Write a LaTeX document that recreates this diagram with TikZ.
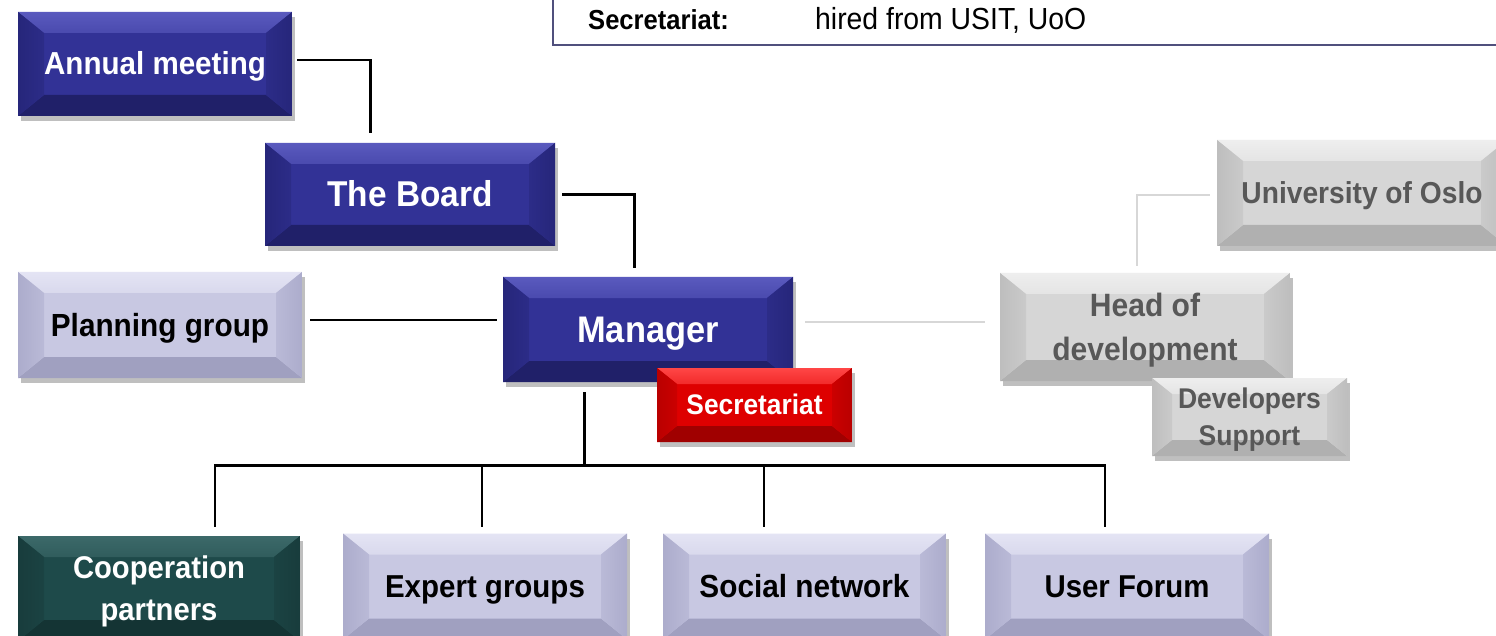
\documentclass[tikz,border=0pt]{standalone}
\usepackage{fontspec}
\setmainfont{Liberation Sans}
\newfontfamily\nar[FakeStretch=0.93]{Liberation Sans}
\usetikzlibrary{shadows,calc}
\definecolor{bBase}{RGB}{50,50,150}
\definecolor{bTop}{RGB}{90,90,190}
\definecolor{bSide}{RGB}{38,38,122}
\definecolor{bBot}{RGB}{32,32,105}
\definecolor{lBase}{RGB}{200,200,226}
\definecolor{lTop}{RGB}{228,228,244}
\definecolor{lSide}{RGB}{172,172,204}
\definecolor{lBot}{RGB}{160,160,192}
\definecolor{gBase}{RGB}{214,214,214}
\definecolor{gTop}{RGB}{238,238,238}
\definecolor{gSide}{RGB}{190,190,190}
\definecolor{gBot}{RGB}{176,176,176}
\definecolor{rBase}{RGB}{222,0,0}
\definecolor{rTop}{RGB}{255,70,70}
\definecolor{rSide}{RGB}{185,0,0}
\definecolor{rBot}{RGB}{160,0,0}
\definecolor{tBase}{RGB}{30,74,74}
\definecolor{tTop}{RGB}{60,105,105}
\definecolor{tSide}{RGB}{24,60,60}
\definecolor{tBot}{RGB}{20,52,52}
\definecolor{frame}{RGB}{80,80,125}
\definecolor{grayline}{RGB}{215,215,215}
\definecolor{grtext}{RGB}{88,88,88}
\tikzset{
  bevel x/.store in=\bx, bevel y/.store in=\by, bevel x=26, bevel y=21,
  bevelbox/.style n args={4}{rectangle, inner sep=0pt, align=center,
    fill=#1,
    drop shadow={shadow xshift=3pt, shadow yshift=-5pt, opacity=0.25, fill=black},
    path picture={
      \path (path picture bounding box.north west) coordinate (pNW)
            (path picture bounding box.north east) coordinate (pNE)
            (path picture bounding box.south west) coordinate (pSW)
            (path picture bounding box.south east) coordinate (pSE);
      \shade[top color=#2, bottom color=#2!60!#1] (pNW) -- (pNE) -- ([shift={(-\bx pt,-\by pt)}]pNE) -- ([shift={(\bx pt,-\by pt)}]pNW) -- cycle;
      \fill[#4] (pSW) -- (pSE) -- ([shift={(-\bx pt,\by pt)}]pSE) -- ([shift={(\bx pt,\by pt)}]pSW) -- cycle;
      \shade[left color=#3, right color=#3!50!#1] (pNW) -- ([shift={(\bx pt,-\by pt)}]pNW) -- ([shift={(\bx pt,\by pt)}]pSW) -- (pSW) -- cycle;
      \shade[right color=#3, left color=#3!50!#1] (pNE) -- ([shift={(-\bx pt,-\by pt)}]pNE) -- ([shift={(-\bx pt,\by pt)}]pSE) -- (pSE) -- cycle;
    }},
  bluebox/.style={bevelbox={bBase}{bTop}{bSide}{bBot}, text=white},
  lavbox/.style={bevelbox={lBase}{lTop}{lSide}{lBot}, text=black},
  graybox/.style={bevelbox={gBase}{gTop}{gSide}{gBot}, text=grtext},
  redbox/.style={bevelbox={rBase}{rTop}{rSide}{rBot}, text=white},
  tealbox/.style={bevelbox={tBase}{tTop}{tSide}{tBot}, text=white},
  conn/.style={line width=2.8pt, black},
  gconn/.style={line width=2.5pt, grayline},
}
\newcommand{\fs}[2]{\nar\bfseries\fontsize{#1}{#2}\selectfont}
\newcommand{\cb}[1]{\raisebox{0pt}[\fontcharht\font`H][0pt]{#1}}
\begin{document}
\begin{tikzpicture}[x=1pt,y=-1pt]
\useasboundingbox (0,0) rectangle (1496,636);
\clip (0,0) rectangle (1496,636);
\fill[white] (0,0) rectangle (1496,636);

% top info frame
\draw[frame, line width=1.6pt] (553,-5) -- (553,45) -- (1505,45);
\node[anchor=base west, font=\fs{27.5}{32}, inner sep=0pt] (sl) at (588,30) {Secretariat:};
\node[anchor=base west, font=\nar\fontsize{30.5}{32}\selectfont, inner sep=0pt] (sv) at (815,30) {hired from USIT, UoO};

% boxes
\node[bluebox, minimum width=274pt, minimum height=104pt, font=\fs{31.8}{36}] (annual) at (155,64) {\cb{Annual meeting}};
\node[bluebox, minimum width=290pt, minimum height=103pt, font=\fs{35.9}{40}] (board) at (410,194.5) {\cb{The Board}};
\node[lavbox, minimum width=284pt, minimum height=106pt, font=\fs{32}{36}] (planning) at (160,325) {\cb{Planning group}};
\node[bluebox, minimum width=290pt, minimum height=105pt, font=\fs{37}{40}] (manager) at (648,329.5) {\cb{Manager}};
\node[graybox, minimum width=290pt, minimum height=106pt, font=\fs{30.3}{34}] (uoo) at (1362,193) {\cb{University of Oslo}};
\node[graybox, minimum width=290pt, minimum height=108pt, font=\fs{32.3}{44}] (hod) at (1145,327) {\cb{Head of}\\\cb{development}};
\node[redbox, bevel x=20, bevel y=16, minimum width=195pt, minimum height=74pt, font=\fs{28.3}{32}] (secr) at (754.5,405) {\cb{Secretariat}};
\node[graybox, bevel x=20, bevel y=16, minimum width=195pt, minimum height=78pt, font=\fs{28.5}{37}] (dev) at (1249.5,417) {\cb{Developers}\\\cb{Support}};
\node[tealbox, minimum width=282pt, minimum height=105pt, font=\fs{31.4}{42}] (coop) at (159,588.5) {\cb{Cooperation}\\\cb{partners}};
\node[lavbox, minimum width=284pt, minimum height=106pt, font=\fs{31.7}{36}] (expert) at (485,586.5) {\cb{Expert groups}};
\node[lavbox, minimum width=283pt, minimum height=106pt, font=\fs{32}{36}] (social) at (804.5,586.5) {\cb{Social network}};
\node[lavbox, minimum width=284pt, minimum height=106pt, font=\fs{31.6}{36}] (user) at (1127,586.5) {\cb{User Forum}};

% connector points
\coordinate (c1) at ($(board.north west)+(106,-10)$);
\coordinate (c2) at ($(manager.north west)+(132,-9)$);
\coordinate (c3) at ($(manager.west)+(-6,-9.5)$);
\coordinate (c4) at ($(manager.south west)+(82,10)$);
\coordinate (bus) at ($(c4)+(0,73)$);
\coordinate (d1) at ($(coop.north)+(56,-9)$);
\coordinate (d2) at ($(expert.north)+(-3,-6.5)$);
\coordinate (d3) at ($(social.north)+(-40.5,-6.5)$);
\coordinate (d4) at ($(user.north)+(-22,-6.5)$);
\coordinate (c5) at ($(manager.east)+(12,-7.5)$);
\coordinate (c6) at ($(hod.west)+(-15,-5)$);
\coordinate (c7) at ($(hod.north)+(-8,-7)$);
\coordinate (c8) at ($(uoo.west)+(-7,2)$);

% black connectors
\draw[conn] ([shift={(5pt,4pt)}]annual.east) -| (c1);
\draw[conn] ([shift={(7pt,0pt)}]board.east) -| (c2);
\draw[conn] ([xshift=8pt]planning.east |- c3) -- (c3);
\draw[conn] (c4) -- (bus);
\draw[conn] (d1) -- (d1 |- bus) -- (d4 |- bus) -- (d4);
\draw[conn] (d2 |- bus) -- (d2);
\draw[conn] (d3 |- bus) -- (d3);

% gray connectors
\draw[gconn] (c5) -- (c6);
\draw[gconn] (c7) |- (c8);
\end{tikzpicture}
\end{document}
